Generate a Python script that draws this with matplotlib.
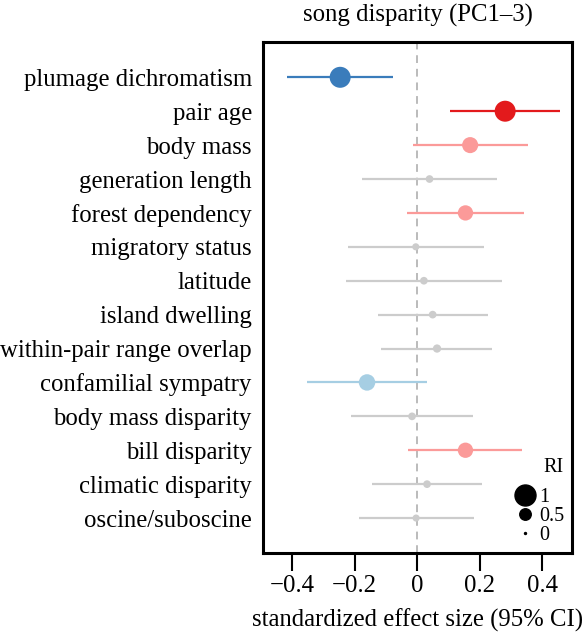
import matplotlib
matplotlib.use("Agg")
import matplotlib.pyplot as plt
from matplotlib.lines import Line2D

# predictors, top to bottom
predictors = [
    "plumage dichromatism", "pair age", "body mass", "generation length",
    "forest dependency", "migratory status", "latitude", "island dwelling",
    "within-pair range overlap", "confamilial sympatry", "body mass disparity",
    "bill disparity", "climatic disparity", "oscine/suboscine",
]
estimate = [-0.246, 0.282, 0.170, 0.040, 0.155, -0.004, 0.022, 0.050,
            0.064, -0.160, -0.016, 0.155, 0.032, -0.003]
ci_low = [-0.417, 0.106, -0.012, -0.177, -0.031, -0.221, -0.226, -0.124,
          -0.115, -0.353, -0.211, -0.030, -0.144, -0.186]
ci_high = [-0.078, 0.459, 0.354, 0.257, 0.342, 0.213, 0.273, 0.226,
           0.241, 0.031, 0.178, 0.335, 0.207, 0.181]
ri = [1.0, 1.0, 0.74, 0.30, 0.70, 0.27, 0.30, 0.30,
      0.33, 0.76, 0.30, 0.70, 0.30, 0.27]
colors = ["#3a7cbb", "#e31a1c", "#fb9a99", "#cccccc", "#fb9a99", "#cccccc",
          "#cccccc", "#cccccc", "#cccccc", "#a6cee3", "#cccccc", "#fb9a99",
          "#cccccc", "#cccccc"]
xticks = [-0.4, -0.2, 0, 0.2, 0.4]
xtick_labels = ["\u22120.4", "\u22120.2", "0", "0.2", "0.4"]
legend_ri = [1, 0.5, 0]

plt.rcParams["font.family"] = ["Liberation Serif", "DejaVu Serif"]


def marker_diam(r):
    # diameter in points, grows linearly with RI
    return (2 + 19 * r) * 0.72


fig = plt.figure(figsize=(5.84, 6.37), dpi=100)
ax = fig.add_axes([0.4503, 0.1319, 0.5292, 0.8021])

ypos = list(range(1, len(predictors) + 1))
ax.axvline(0, color="#bbbbbb", lw=1.4, ls=(0, (4, 3)), zorder=1)
ax.hlines(ypos, ci_low, ci_high, colors=colors, lw=1.6, zorder=2)
ax.scatter(estimate, ypos, s=[marker_diam(r) ** 2 for r in ri], c=colors,
           linewidths=0, zorder=3)

ax.set_xlim(-0.493, 0.496)
ax.set_ylim(15.03, -0.04)
ax.set_yticks(ypos)
ax.set_yticklabels(predictors, fontsize=17.8)
ax.tick_params(axis="y", length=0, pad=8)
ax.set_xticks(xticks)
ax.set_xticklabels(xtick_labels, fontsize=17.8)
ax.tick_params(axis="x", length=13, width=1.5, pad=3)
for sp in ax.spines.values():
    sp.set_linewidth(2.2)

ax.set_title("song disparity (PC1\u20133)", fontsize=17.8, pad=15)
ax.set_xlabel("standardized effect size (95% CI)", fontsize=17.8, labelpad=8)

handles = [Line2D([], [], ls="", marker="o", color="black",
                  markersize=max(marker_diam(r), 1.3)) for r in legend_ri]
leg = ax.legend(handles, [str(r) for r in legend_ri], title="RI",
                loc="lower right", frameon=False, fontsize=14.5,
                title_fontsize=14.5, handletextpad=0.15, labelspacing=0.0,
                handlelength=1.1, borderaxespad=0.0, bbox_to_anchor=(1.0, 0.0))
leg._legend_box.align = "right"
leg._legend_box.sep = 8

fig.savefig("out.png", dpi=100)
